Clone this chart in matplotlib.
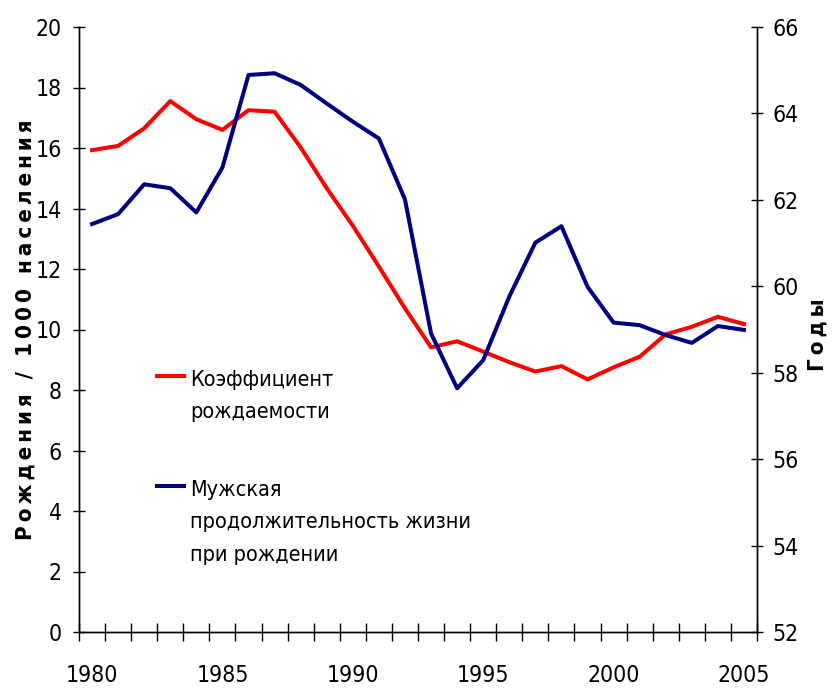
import numpy as np
import matplotlib
matplotlib.use('Agg')
from matplotlib import pyplot as plt
from matplotlib.lines import Line2D

plt.rcParams['font.family'] = ['DejaVu Sans']
plt.rcParams['font.stretch'] = 'condensed'

# годы и два ряда: рождаемость (левая ось) и продолжительность жизни мужчин (правая ось)
anos = np.arange(1980, 2006)
rozhd = [15.93, 16.07, 16.65, 17.55, 16.95, 16.60, 17.25, 17.20, 16.02, 14.67,
         13.43, 12.08, 10.70, 9.41, 9.61, 9.27, 8.92, 8.61, 8.79, 8.35,
         8.75, 9.10, 9.84, 10.09, 10.42, 10.18]
zhizn = [61.44, 61.67, 62.36, 62.27, 61.71, 62.75, 64.89, 64.93, 64.66, 64.23,
         63.81, 63.42, 62.01, 58.91, 57.64, 58.29, 59.76, 61.01, 61.39, 59.99,
         59.16, 59.10, 58.87, 58.69, 59.08, 58.99]
etiquetas_x = [1980, 1985, 1990, 1995, 2000, 2005]

W, H = 834, 688
fig = plt.figure(figsize=(W/100, H/100), dpi=100)
ax = fig.add_axes([79/W, 56/H, 678/W, 605/H])
ax2 = ax.twinx()

ax.plot(anos, rozhd, color='#ff0000', lw=2.9)
ax2.plot(anos, zhizn, color='#000080', lw=2.9)

ax.set_xlim(1979.5, 2005.5)
ax.set_ylim(0, 20)
ax2.set_ylim(52, 66)
ax.set_yticks(np.arange(0, 21, 2))
ax2.set_yticks(np.arange(52, 67, 2))

# marcas entre categorias, etiquetas en el centro
ax.set_xticks(np.arange(1979.5, 2006, 1))
ax.set_xticklabels([])
ax.set_xticks(etiquetas_x, minor=True)
ax.set_xticklabels([str(a) for a in etiquetas_x], minor=True)
ax.tick_params(axis='x', which='major', direction='inout', length=13.5, width=1)
ax.tick_params(axis='x', which='minor', length=0, pad=23, labelsize=16.5)
ax.tick_params(axis='y', direction='inout', length=8.6, width=1, pad=8, labelsize=16.5)
ax2.tick_params(axis='y', direction='inout', length=8.6, width=1, pad=7, labelsize=16.5)

for a in (ax, ax2):
    a.spines['top'].set_visible(False)
    for s in a.spines.values():
        s.set_linewidth(1)

# leyenda a mano
def clave(y, color):
    fig.add_artist(Line2D([157/W, 184/W], [1 - y/H, 1 - y/H], color=color, lw=2.9,
                          transform=fig.transFigure))

def renglones(y0, lineas):
    for k, t in enumerate(lineas):
        fig.text(190/W, 1 - (y0 + 32.5*k)/H, t, fontsize=15.5, va='baseline', ha='left')

clave(376, '#ff0000')
renglones(386, ['Коэффициент', 'рождаемости'])
clave(486, '#000080')
renglones(496, ['Мужская', 'продолжительность жизни', 'при рождении'])

esp = '\u2009'
fig.text(26/W, 1 - 330/H, esp.join('Рождения / 1000 населения'), rotation=90,
         ha='center', va='center', fontsize=16, fontweight='bold')
fig.text(818/W, 1 - 335/H, esp.join('Годы'), rotation=90,
         ha='center', va='center', fontsize=16, fontweight='bold')

plt.savefig('out.png', dpi=100)
